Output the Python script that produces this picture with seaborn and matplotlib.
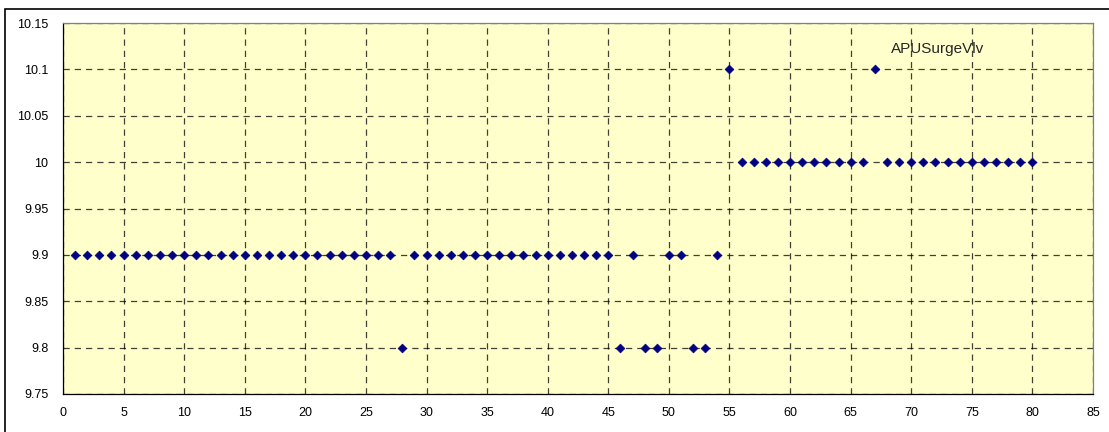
import numpy as np
import pandas as pd
import seaborn as sns
import matplotlib.pyplot as plt
from matplotlib.patches import Rectangle

# sample index and APUSurgeVlv readings
sample = list(range(1, 81))
surge_vlv = ([9.9] * 27 + [9.8] + [9.9] * 17 +
             [9.8, 9.9, 9.8, 9.8, 9.9, 9.9, 9.8, 9.8, 9.9, 10.1] +
             [10.0] * 11 + [10.1] + [10.0] * 13)
x_ticks = list(range(0, 90, 5))
y_ticks = [9.75, 9.8, 9.85, 9.9, 9.95, 10.0, 10.05, 10.1, 10.15]
y_labels = ["9.75", "9.8", "9.85", "9.9", "9.95", "10", "10.05", "10.1", "10.15"]

df = pd.DataFrame({"sample": sample, "value": surge_vlv})

sns.set_style("white")
plt.rcParams['font.family'] = ['Liberation Sans', 'DejaVu Sans']

fig = plt.figure(figsize=(11.09, 4.32), dpi=100)
ax = fig.add_axes([63 / 1109, 1 - 394 / 432, (1093 - 63) / 1109, (394 - 23) / 432])
ax.set_facecolor('#FFFFCC')

sns.scatterplot(data=df, x="sample", y="value", ax=ax, marker='D', s=20,
                color='#000080', edgecolor='#000080', linewidth=0.5, zorder=3)

ax.set_xlim(0, 85)
ax.set_ylim(9.75, 10.15)
ax.set_xticks(x_ticks)
ax.set_yticks(y_ticks)
ax.set_yticklabels(y_labels)
ax.grid(True, color='black', linestyle=(0, (5, 4)), linewidth=0.9, alpha=0.75)
ax.set_axisbelow(True)
ax.set_xlabel('')
ax.set_ylabel('')
ax.tick_params(axis='both', direction='inout', length=7, width=0.8, color='black',
               labelsize=9, labelcolor='black')
ax.tick_params(axis='y', pad=7)
ax.tick_params(axis='x', pad=6)
for side in ['left', 'bottom']:
    ax.spines[side].set_color('black')
    ax.spines[side].set_linewidth(0.9)
for side in ['top', 'right']:
    ax.spines[side].set_color('#808080')
    ax.spines[side].set_linewidth(0.9)

ax.text(72.15, 10.1225, 'APUSurgeVlv', ha='center', va='center', fontsize=11,
        zorder=4)

# outer chart border
fig.patches.append(Rectangle((5 / 1109, -0.05), 1.1, 1.05 - 9 / 432,
                             transform=fig.transFigure, fill=False,
                             edgecolor='black', linewidth=1.2))

fig.savefig('out.png', dpi=100, facecolor='white')
